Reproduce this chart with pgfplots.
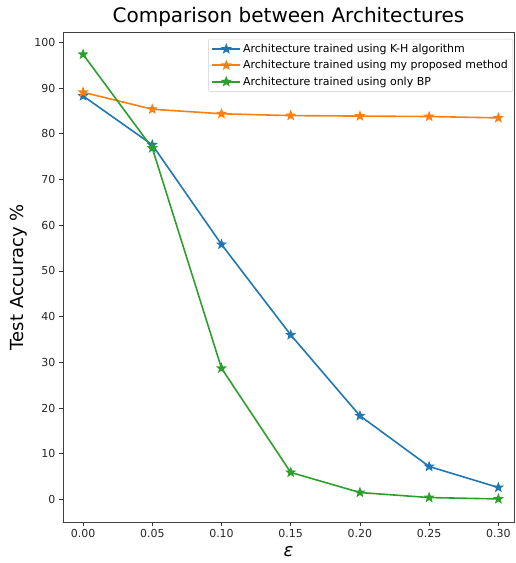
\documentclass[border=0pt]{standalone}
\usepackage{fontspec}
\setmainfont{DejaVu Sans}
\usepackage{pgfplots}
\pgfplotsset{compat=1.18}
\definecolor{tabblue}{HTML}{1F77B4}
\definecolor{taborange}{HTML}{FF7F0E}
\definecolor{tabgreen}{HTML}{2CA02C}
\pgfdeclareplotmark{fstar}{%
  \pgfpathmoveto{\pgfpointpolar{90}{\pgfplotmarksize}}%
  \pgfpathlineto{\pgfpointpolar{126}{0.42\pgfplotmarksize}}%
  \pgfpathlineto{\pgfpointpolar{162}{\pgfplotmarksize}}%
  \pgfpathlineto{\pgfpointpolar{198}{0.42\pgfplotmarksize}}%
  \pgfpathlineto{\pgfpointpolar{234}{\pgfplotmarksize}}%
  \pgfpathlineto{\pgfpointpolar{270}{0.42\pgfplotmarksize}}%
  \pgfpathlineto{\pgfpointpolar{306}{\pgfplotmarksize}}%
  \pgfpathlineto{\pgfpointpolar{342}{0.42\pgfplotmarksize}}%
  \pgfpathlineto{\pgfpointpolar{18}{\pgfplotmarksize}}%
  \pgfpathlineto{\pgfpointpolar{54}{0.42\pgfplotmarksize}}%
  \pgfpathclose
  \pgfusepathqfillstroke
}
\begin{document}
\begin{tikzpicture}
\begin{axis}[
  scale only axis,
  width=451pt, height=490pt,
  xmin=-0.0145, xmax=0.3113,
  ymin=-4.95, ymax=102.3,
  xtick={0,0.05,0.10,0.15,0.20,0.25,0.30},
  ytick={0,10,...,100},
  xticklabel style={/pgf/number format/.cd,fixed,fixed zerofill,precision=2},
  /pgf/number format/assume math mode=true,
  tick label style={font=\fontsize{11}{13}\selectfont, text=black!85},
  tick align=outside,
  major tick length=4pt,
  tick style={black!80, line width=0.8pt},
  xtick pos=bottom, ytick pos=left,
  axis line style={black!75, line width=0.9pt},
  title={Comparison between Architectures},
  title style={font=\fontsize{20}{23}\selectfont, yshift=-4pt},
  xlabel={\textit{ε}},
  xlabel style={font=\fontsize{18}{20}\selectfont, yshift=-2pt},
  ylabel={Test Accuracy \%},
  ylabel style={font=\fontsize{18}{20}\selectfont, yshift=0pt},
  legend style={at={(0.998,0.986)}, anchor=north east,
    font=\fontsize{11}{13}\selectfont, draw=black!20, rounded corners=2pt,
    fill=white, fill opacity=0.8, text opacity=1,
    row sep=2.5pt, inner sep=3pt},
  legend cell align=left,
  legend image code/.code={%
    \draw[#1, mark=none, line width=1.7pt, opacity=1] (0pt,0pt) -- (28pt,0pt);
    \draw[#1, only marks, opacity=1] plot coordinates {(14pt,0pt)};},
  every axis plot/.append style={line width=1.6pt, mark=fstar, mark size=3.6pt, mark options={solid, line width=0.4pt}},
]
\addplot[tabblue, line width=1.6pt, mark options={fill=tabblue}] coordinates {
(0.00,88.3) (0.05,77.6) (0.10,55.8) (0.15,36.0) (0.20,18.3) (0.25,7.2) (0.30,2.6)};
\addlegendentry{Architecture trained using K-H algorithm}
\addplot[taborange, line width=1.6pt, mark options={fill=taborange}] coordinates {
(0.00,89.1) (0.05,85.4) (0.10,84.4) (0.15,84.0) (0.20,83.9) (0.25,83.8) (0.30,83.5)};
\addlegendentry{Architecture trained using my proposed method}
\addplot[tabgreen, line width=1.6pt, mark options={fill=tabgreen}] coordinates {
(0.00,97.4) (0.05,76.9) (0.10,28.7) (0.15,5.9) (0.20,1.5) (0.25,0.4) (0.30,0.1)};
\addlegendentry{Architecture trained using only BP}
\end{axis}
\useasboundingbox (current axis.south west) ++(-63pt,-41pt) rectangle ([xshift=1pt,yshift=32pt]current axis.north east);
\end{tikzpicture}
\end{document}
